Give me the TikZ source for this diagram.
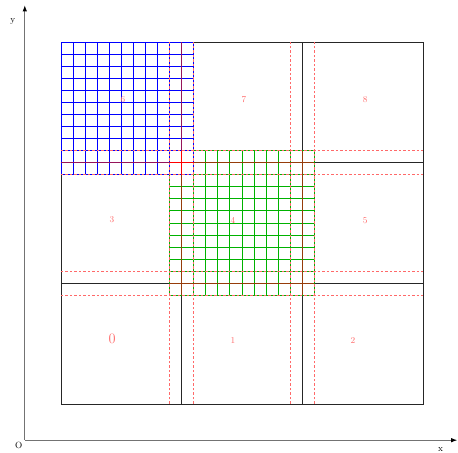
\documentclass[tikz,border=0pt]{standalone}
\usepackage{tikz}
\usetikzlibrary{arrows.meta}
\definecolor{redblue}{RGB}{150,20,90}
\definecolor{redgreen}{RGB}{150,60,10}
\definecolor{ghostred}{RGB}{255,105,105}

\begin{document}
\begin{tikzpicture}[
  x=12.067pt, y=12.067pt,
  font=\small,
  axis/.style={draw=black!55, line width=1pt, -{Latex[length=2.2mm, width=1.6mm, black]}},
  part/.style={draw=black!85, line width=0.9pt},
  ghost/.style={draw=ghostred, dash pattern=on 2.5pt off 2pt, line width=0.9pt},
  bgrid/.style={draw=blue, line width=0.9pt, step={(1,1)}},
  ggrid/.style={draw=green!70!black, line width=0.9pt, step={(1,1)}},
  inner/.style={line width=1.1pt},
  lbl/.style={text=ghostred, inner sep=0pt}
]
\useasboundingbox (-5.055,-4.06) rectangle (32.9,33.48);
% --- domain and partition ---
\draw[part] (0,0) rectangle (30,30);
\foreach \p in {10,20} {
  \draw[part] (\p,0) -- (\p,30);
  \draw[part] (0,\p) -- (30,\p);
}
% --- refined grids ---
\draw[ggrid] (9,9) grid (21,21);
\draw[bgrid] (0,19) grid (11,30);
% --- ghost layers ---
\foreach \gl in {21,19,11,9} {
  \draw[ghost] (\gl,0) -- (\gl,30);
  \draw[ghost] (0,\gl) -- (30,\gl);
}
% --- partition lines over the grids ---
\draw[inner, draw=redblue] (10,21) -- (10,30);
\draw[inner, draw=redblue] (0,20) -- (9,20);
\draw[inner, draw=redgreen] (10,9) -- (10,19);
\draw[inner, draw=redgreen] (20,9) -- (20,21);
\draw[inner, draw=redgreen] (11,20) -- (21,20);
\draw[inner, draw=redgreen] (9,10) -- (21,10);
\draw[inner, draw=red] (10,19) -- (10,21);
\draw[inner, draw=red] (9,20) -- (11,20);
% --- axes ---
\coordinate (O) at (-3,-3);
\coordinate (xend) at (32.85,-3);
\coordinate (yend) at (-3,33.05);
\draw[axis] (O) -- (xend);
\draw[axis] (O) -- (yend);
\node[inner sep=0pt] (olab) at (-3.5,-3.4) {O};
\node[inner sep=0pt] (xlab) at (31.45,-3.75) {x};
\node[inner sep=0pt] (ylab) at (-4.0,31.7) {y};
% --- cell numbers ---
\node[lbl, font=\Large] (c0) at (4.23,5.39) {0};
\node[lbl] (c1) at (14.25,5.3) {1};
\node[lbl] (c2) at (24.2,5.3) {2};
\node[lbl] (c3) at (4.23,15.25) {3};
\node[lbl] (c4) at (14.25,15.25) {4};
\node[lbl] (c5) at (25.2,15.2) {5};
\node[lbl] (c6) at (5.14,25.2) {6};
\node[lbl] (c7) at (15.17,25.2) {7};
\node[lbl] (c8) at (25.2,25.2) {8};
\end{tikzpicture}
\end{document}
